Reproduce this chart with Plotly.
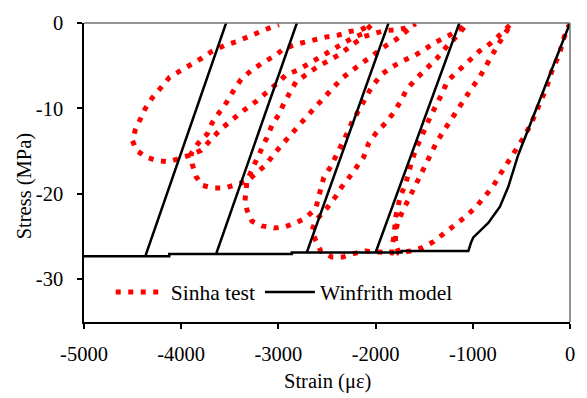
import plotly.graph_objects as go

# ---- Sinha test (one continuous test path, strain in microstrain, stress in MPa) ----
sinha_strain = [
    0, -62, -113, -174, -246, -318, -400, -482, -574, -656, -718, -790, -872, -964, -1067, -1179, -1282, -1405, -1518, -1641, -1764,
    -1795, -1795, -1774, -1733, -1682, -1631, -1579, -1538, -1487, -1436, -1374, -1303, -1231, -1159, -1087, -1015, -933, -872, -810, -738, -677, -605,
    -708, -820, -933, -1046, -1159, -1262, -1313, -1374, -1426, -1477, -1538, -1590, -1631, -1662, -1692, -1744, -1774, -1795, -1805, -1826, -1836,
    -1969, -2103, -2226, -2338, -2451, -2564, -2615, -2656,
    -2615, -2503, -2410, -2349, -2267, -2195, -2123, -2072, -1990, -1897, -1815, -1744, -1682, -1590, -1487, -1374, -1272, -1169, -1067,
    -1149, -1251, -1374, -1487, -1590, -1713, -1826, -1938, -2041, -2123, -2195, -2246, -2297, -2349, -2400, -2461, -2533, -2564, -2585, -2615, -2718,
    -2820, -2943, -3046, -3169, -3272, -3323, -3344, -3333, -3323,
    -3282, -3231, -3179, -3118, -3067, -2995, -2943, -2892, -2820, -2697, -2595, -2482, -2359, -2246, -2123, -2020, -1908, -1795, -1692, -1590,
    -1682, -1785, -1887, -2000, -2113, -2236, -2349, -2451, -2554, -2656, -2759, -2851, -2954, -3036, -3128, -3231, -3323,
    -3426, -3549, -3682, -3785, -3846, -3887, -3897,
    -3826, -3733, -3682, -3610, -3528, -3456, -3384, -3282, -3169, -3046, -2943, -2820, -2728, -2605, -2492, -2379, -2267, -2154, -2041,
    -2133, -2246, -2349, -2451, -2564, -2677, -2800, -2923, -3026, -3128, -3231, -3354, -3477, -3590, -3682, -3795,
    -3918, -4020, -4133, -4256, -4359, -4462, -4502,
    -4472, -4420, -4369, -4297, -4205, -4123, -4010, -3897, -3785, -3682, -3549, -3436, -3333, -3220, -3118, -2995,
]
sinha_stress = [
    0, -1.7, -3.8, -5.2, -7.7, -9.8, -11.8, -13.5, -15.1, -16.4, -17.7, -19.1, -20.2, -21.5, -22.6, -23.6, -24.5, -25.6, -26.3, -26.7, -26.9,
    -25.7, -24.5, -23.4, -22.3, -21.1, -20.1, -18.9, -17.7, -16.6, -15.5, -14.0, -12.7, -11.4, -10.1, -8.9, -7.7, -6.4, -5.1, -3.75, -2.5, -1.4, -0.1,
    -1.25, -2.4, -3.3, -4.5, -5.7, -6.8, -8.2, -9.4, -10.7, -12.0, -13.4, -14.9, -16.3, -17.5, -18.9, -20.2, -21.6, -22.8, -24.3, -25.7, -26.9,
    -26.8, -26.7, -27.0, -27.4, -27.4, -26.7, -25.5, -24.3,
    -23.1, -21.7, -20.3, -19.2, -18.0, -16.8, -15.7, -14.1, -12.8, -11.7, -10.5, -9.2, -7.8, -6.6, -5.5, -4.2, -2.8, -1.6, -0.2,
    -0.8, -1.5, -2.2, -3.0, -3.75, -4.4, -5.1, -6.0, -7.5, -9.2, -10.6, -11.7, -13.0, -14.2, -15.5, -16.8, -18.1, -19.2, -20.3, -21.7, -22.8,
    -23.4, -23.9, -24.0, -23.75, -23.2, -21.9, -20.8, -19.7, -18.5,
    -17.4, -16.25, -14.9, -13.4, -12.0, -10.7, -9.4, -8.3, -6.9, -5.9, -5.1, -4.4, -3.6, -2.6, -1.6, -1.25, -0.9, -0.8, -0.6, -0.1,
    -1.0, -1.9, -2.6, -3.5, -4.4, -5.5, -6.5, -7.7, -9.0, -10.3, -11.6, -12.8, -14.1, -15.2, -16.6, -17.6, -18.5,
    -18.9, -19.3, -19.3, -19.0, -18.0, -16.5, -15.3,
    -14.1, -13.0, -11.7, -10.5, -9.2, -7.8, -6.6, -5.6, -4.7, -3.9, -3.0, -2.5, -2.2, -1.9, -1.6, -1.4, -1.0, -0.8, -0.2,
    -1.25, -1.8, -2.5, -3.3, -4.0, -4.7, -5.5, -6.1, -7.2, -8.2, -9.2, -10.2, -11.3, -12.4, -13.5, -14.9,
    -15.5, -15.8, -16.25, -16.1, -15.7, -14.9, -13.75,
    -12.5, -11.25, -10.0, -8.75, -7.5, -6.4, -5.6, -4.9, -4.1, -3.3, -2.6, -2.2, -1.7, -1.1, -0.7, -0.2,
]

# ---- Winfrith model (loading, plateau, unload/reload lines) ----
win_strain = [0, -533, -636, -721, -841, -926, -995, -1018, -1046, -1733, -1733, -2000, -1138, -2000,
              -2708, -1867, -2708, -2862, -2862, -3641, -2810, -3641, -4123, -4123, -4369, -3538, -4369, -5000]
win_stress = [0, -15.45, -19.2, -21.5, -23.4, -24.3, -25.1, -25.7, -26.7, -26.7, -26.85, -26.85, 0, -26.85,
              -26.85, 0, -26.85, -26.85, -27.05, -27.05, 0, -27.05, -27.05, -27.3, -27.3, 0, -27.3, -27.3]

x_ticks = [-5000, -4000, -3000, -2000, -1000, 0]
x_tick_text = ["-5000", "-4000", "-3000", "-2000", "-1000", "0"]
y_ticks = [0, -10, -20, -30]
y_tick_text = ["0", "-10", "-20", "-30"]

FONT = "Liberation Serif, Times New Roman, serif"

fig = go.Figure()
fig.add_trace(go.Scatter(
    x=sinha_strain, y=sinha_stress, mode="lines", name="Sinha test",
    line=dict(color="#FF0000", width=5, dash="5px,7.5px"),
))
fig.add_trace(go.Scatter(
    x=win_strain, y=win_stress, mode="lines", name="Winfrith model",
    line=dict(color="black", width=2.5),
))

fig.update_layout(
    width=587, height=398,
    margin=dict(l=84, r=15, t=14, b=76),
    paper_bgcolor="white", plot_bgcolor="white",
    font=dict(family=FONT, size=20, color="black"),
    showlegend=True,
    legend=dict(orientation="h", x=0.055, y=0.1, xanchor="left", yanchor="middle",
                bgcolor="rgba(0,0,0,0)", font=dict(family=FONT, size=21.5, color="black"),
                itemwidth=50, tracegroupgap=0),
    xaxis=dict(range=[-5000, 0], tickvals=x_ticks, ticktext=x_tick_text,
               ticks="outside", ticklen=5, tickwidth=1.5, tickcolor="black",
               showline=True, linecolor="black", linewidth=1.5,
               showgrid=False, zeroline=False, ticklabelstandoff=8,
               tickfont=dict(family=FONT, size=20.5, color="black")),
    yaxis=dict(range=[-35, 0], tickvals=y_ticks, ticktext=y_tick_text,
               ticks="outside", ticklen=5, tickwidth=1.5, tickcolor="black",
               showline=True, linecolor="black", linewidth=1.5,
               showgrid=False, zeroline=False, ticklabelstandoff=10,
               tickfont=dict(family=FONT, size=20.5, color="black")),
    shapes=[
        dict(type="line", xref="paper", yref="paper", x0=0, x1=1, y0=1, y1=1,
             line=dict(color="#707070", width=1.5)),
        dict(type="line", xref="paper", yref="paper", x0=1, x1=1, y0=0, y1=1,
             line=dict(color="#707070", width=1.5)),
    ],
    annotations=[
        dict(text="Strain (\u03bc\u03b5)", xref="paper", yref="paper", x=0.5, y=-0.198,
             xanchor="center", yanchor="middle", showarrow=False,
             font=dict(family=FONT, size=20.5, color="black")),
        dict(text="Stress (MPa)", xref="paper", yref="paper", x=-0.123, y=0.4545,
             xanchor="center", yanchor="middle", showarrow=False, textangle=-90,
             font=dict(family=FONT, size=20.5, color="black")),
    ],
)

fig.write_html("out.html")
